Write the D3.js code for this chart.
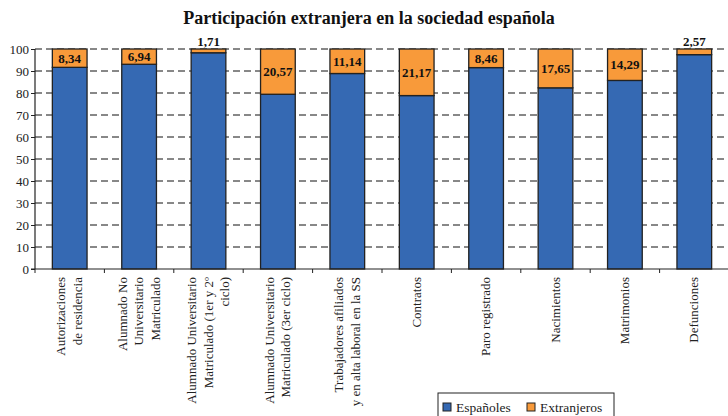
<!DOCTYPE html>
<html>
<head>
<meta charset="utf-8">
<script src="https://cdn.jsdelivr.net/npm/d3@7"></script>
</head>
<body style="margin:0;background:#fff">
<svg width="728" height="416"></svg>
<script>
// categories, split in the lines used under each bar
const categories = [
    ["Autorizaciones", "de residencia"],
    ["Alumnado No", "Universitario", "Matriculado"],
    ["Alumnado Universitario", "Matriculado (1er y 2º", "ciclo)"],
    ["Alumnado Universitario", "Matriculado (3er ciclo)"],
    ["Trabajadores afiliados", "y en alta laboral en la SS"],
    ["Contratos"],
    ["Paro registrado"],
    ["Nacimientos"],
    ["Matrimonios"],
    ["Defunciones"]
];
const extranjeros = [8.34, 6.94, 1.71, 20.57, 11.14, 21.17, 8.46, 17.65, 14.29, 2.57];
const espanoles = extranjeros.map(v => 100 - v);
const yTicks = [0, 10, 20, 30, 40, 50, 60, 70, 80, 90, 100];
const seriesNames = ["Españoles", "Extranjeros"];
const colors = ["#3569b3", "#f89a3a"];

const FONT = "Liberation Serif";
const fmt = (v) => v.toFixed(2).replace(".", ",");

var svg = d3.select("svg").attr("font-family", FONT);

var margin = {left: 35, right: -1, top: 49, bottom: 147},
    width = 728 - margin.left - margin.right,
    height = 416 - margin.top - margin.bottom;

var rows = categories.map((c, i) => ({
    idx: i,
    "Españoles": espanoles[i],
    "Extranjeros": extranjeros[i]
}));

var x = d3.scaleBand()
    .domain(d3.range(categories.length))
    .range([0, width])
    .paddingInner(0.5)
    .paddingOuter(0.25);

var y = d3.scaleLinear().domain([0, 100]).range([height, 0]);

var stack = d3.stack().keys(seriesNames)(rows);

svg.append("text")
    .attr("x", 369)
    .attr("y", 24)
    .attr("text-anchor", "middle")
    .attr("font-size", 18)
    .attr("font-weight", "bold")
    .attr("fill", "#111")
    .text("Participación extranjera en la sociedad española");

var g = svg.append("g").attr("transform", `translate(${margin.left},${margin.top})`);

// dashed grid
g.append("g")
    .selectAll("line")
    .data(yTicks.slice(1))
    .enter().append("line")
    .attr("x1", 0)
    .attr("x2", width)
    .attr("y1", d => y(d))
    .attr("y2", d => y(d))
    .attr("stroke", "#111")
    .attr("stroke-width", 1)
    .attr("stroke-dasharray", "7,4");

// bars
g.append("g")
    .selectAll("g")
    .data(stack)
    .enter().append("g")
    .attr("fill", (d, i) => colors[i])
    .selectAll("rect")
    .data(d => d)
    .enter().append("rect")
    .attr("x", d => x(d.data.idx))
    .attr("width", x.bandwidth())
    .attr("y", d => y(d[1]))
    .attr("height", d => y(d[0]) - y(d[1]))
    .attr("stroke", "#222")
    .attr("stroke-width", 1.3);

// value labels for foreign share
g.append("g")
    .selectAll("text")
    .data(extranjeros)
    .enter().append("text")
    .attr("x", (d, i) => x(i) + x.bandwidth() / 2)
    .attr("y", d => d < 4 ? y(100) - 3 : y(100 - d / 2) + 4.5)
    .attr("text-anchor", "middle")
    .attr("font-size", 13)
    .attr("font-weight", "bold")
    .attr("fill", "#111")
    .text(d => fmt(d));

// y axis
var yAxis = g.append("g")
    .call(d3.axisLeft(y).tickValues(yTicks).tickSize(4).tickPadding(2));
yAxis.attr("font-size", 13);
yAxis.selectAll("text").attr("fill", "#222");
yAxis.selectAll("line, path").attr("stroke", "#222");
yAxis.select(".domain").attr("d", `M0,${height}V0`).attr("stroke-width", 1.2);

// x axis with ticks at band edges
var xAxisG = g.append("g").attr("transform", `translate(0,${height})`);
xAxisG.append("line")
    .attr("x1", -4).attr("x2", width)
    .attr("stroke", "#222").attr("stroke-width", 1.2);
xAxisG.selectAll(".tk")
    .data(d3.range(categories.length))
    .enter().append("line")
    .attr("class", "tk")
    .attr("x1", d => x(d) - x.step() * 0.25)
    .attr("x2", d => x(d) - x.step() * 0.25)
    .attr("y1", 0).attr("y2", 4)
    .attr("stroke", "#222");

// rotated category labels
var lineH = 16.5;
var lab = xAxisG.selectAll(".lab")
    .data(categories)
    .enter().append("text")
    .attr("class", "lab")
    .attr("transform", (d, i) => `translate(${x(i) + x.bandwidth() / 2},8) rotate(-90)`)
    .attr("text-anchor", "end")
    .attr("font-size", 13)
    .attr("fill", "#222");
lab.selectAll("tspan")
    .data(d => d.map((t, k) => ({t: t, k: k, n: d.length})))
    .enter().append("tspan")
    .attr("x", 0)
    .attr("y", d => (d.k - (d.n - 1) / 2) * lineH + 4)
    .text(d => d.t);

// legend
var leg = svg.append("g").attr("transform", "translate(438,393)");
leg.append("rect")
    .attr("width", 176).attr("height", 30)
    .attr("fill", "#fff").attr("stroke", "#222");
var items = leg.selectAll(".it")
    .data(seriesNames)
    .enter().append("g")
    .attr("transform", (d, i) => `translate(${5 + i * 84},10)`);
items.append("rect")
    .attr("width", 8).attr("height", 8)
    .attr("fill", (d, i) => colors[i])
    .attr("stroke", "#222");
items.append("text")
    .attr("x", 13).attr("y", 8.5)
    .attr("font-size", 13.5)
    .attr("fill", "#222")
    .text(d => d);

// every text in the serif face, set inline so nothing overrides it
svg.selectAll("text").style("font-family", "'Liberation Serif', serif");
</script>
</body>
</html>
